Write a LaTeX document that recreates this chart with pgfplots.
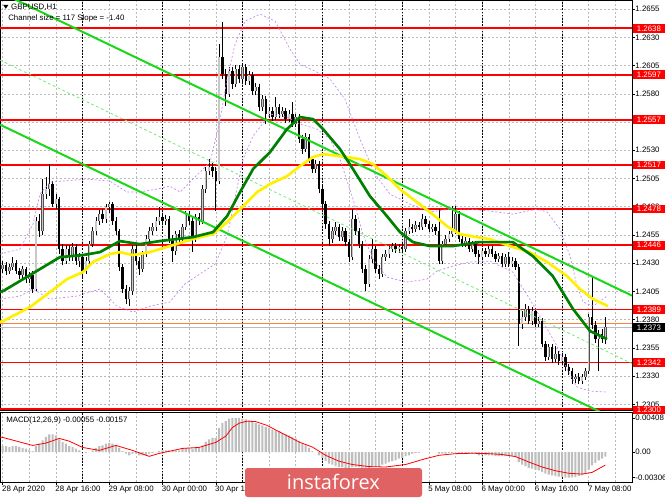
\documentclass[border=0pt]{standalone}
\usepackage{pgfplots}
\pgfplotsset{compat=1.18}
\usepackage{pgfplotstable}
\usepackage{fontspec}
\setmainfont{Liberation Sans}
\newfontfamily\wmfont{Open Sans}
\newcommand\lbl{\fontsize{5.9}{7}\selectfont}
\definecolor{chgreen}{RGB}{25,215,25}
\definecolor{midgreen}{RGB}{110,235,110}
\definecolor{magreen}{RGB}{0,128,0}
\definecolor{mayellow}{RGB}{255,240,0}
\definecolor{bbviolet}{RGB}{195,135,235}
\definecolor{gridgray}{RGB}{185,185,185}
\definecolor{bullfill}{RGB}{200,200,200}
\definecolor{bullline}{RGB}{80,80,80}
\definecolor{histgray}{RGB}{190,190,190}
\definecolor{wmred}{RGB}{224,98,98}
\definecolor{askorange}{RGB}{255,130,60}

\pgfplotstableread{
i o h l c
0 1.24248 1.24319 1.24212 1.24283
1 1.24283 1.24310 1.24195 1.24230
2 1.24230 1.24292 1.24204 1.24266
3 1.24266 1.24354 1.24239 1.24301
4 1.24301 1.24328 1.24204 1.24230
5 1.24230 1.24257 1.24159 1.24195
6 1.24195 1.24274 1.24168 1.24248
7 1.24248 1.24266 1.24124 1.24159
8 1.24159 1.24221 1.24124 1.24195
9 1.24195 1.24230 1.24035 1.24071
10 1.24071 1.24708 1.24053 1.24673
11 1.24673 1.24735 1.24531 1.24584
12 1.24584 1.25045 1.24549 1.24912
13 1.24912 1.25063 1.24868 1.24956
14 1.24956 1.25178 1.24894 1.25001
15 1.25001 1.25027 1.24797 1.24824
16 1.24824 1.24912 1.24779 1.24868
17 1.24868 1.24886 1.24381 1.24425
18 1.24425 1.24469 1.24283 1.24319
19 1.24319 1.24460 1.24292 1.24425
20 1.24425 1.24460 1.24319 1.24354
21 1.24354 1.24478 1.24319 1.24443
22 1.24443 1.24469 1.24283 1.24319
23 1.24319 1.24390 1.24266 1.24354
24 1.24354 1.24381 1.24159 1.24230
25 1.24230 1.24354 1.24204 1.24319
26 1.24319 1.24496 1.24292 1.24469
27 1.24469 1.24620 1.24443 1.24584
28 1.24584 1.24708 1.24549 1.24673
29 1.24673 1.24770 1.24638 1.24735
30 1.24735 1.24779 1.24655 1.24691
31 1.24691 1.24824 1.24655 1.24797
32 1.24797 1.24841 1.24744 1.24824
33 1.24824 1.24841 1.24638 1.24673
34 1.24673 1.24708 1.24549 1.24584
35 1.24584 1.24602 1.24230 1.24266
36 1.24266 1.24292 1.24035 1.24071
37 1.24071 1.24106 1.23938 1.23982
38 1.23982 1.24089 1.23920 1.24053
39 1.24053 1.24460 1.24018 1.24425
40 1.24425 1.24460 1.24283 1.24319
41 1.24319 1.24354 1.24195 1.24248
42 1.24248 1.24407 1.24221 1.24381
43 1.24381 1.24549 1.24354 1.24514
44 1.24514 1.24620 1.24478 1.24584
45 1.24584 1.24655 1.24549 1.24620
46 1.24620 1.24708 1.24584 1.24673
47 1.24673 1.24797 1.24638 1.24708
48 1.24708 1.24744 1.24638 1.24673
49 1.24673 1.24726 1.24638 1.24691
50 1.24691 1.24717 1.24478 1.24514
51 1.24514 1.24549 1.24310 1.24407
52 1.24407 1.24584 1.24372 1.24558
53 1.24558 1.24593 1.24478 1.24514
54 1.24514 1.24646 1.24487 1.24620
55 1.24620 1.24762 1.24593 1.24735
56 1.24735 1.24762 1.24638 1.24673
57 1.24673 1.24708 1.24398 1.24514
58 1.24514 1.24735 1.24487 1.24708
59 1.24708 1.24744 1.24638 1.24673
60 1.24673 1.24992 1.24646 1.24956
61 1.24956 1.25151 1.24921 1.25116
62 1.25116 1.25222 1.25080 1.25151
63 1.25151 1.25187 1.25063 1.25116
64 1.25116 1.25151 1.24762 1.25027
65 1.25027 1.26241 1.25001 1.26125
66 1.26125 1.26435 1.25931 1.25975
67 1.25975 1.26019 1.25691 1.25798
68 1.25798 1.26037 1.25771 1.26001
69 1.26001 1.26037 1.25842 1.25886
70 1.25886 1.26055 1.25860 1.26019
71 1.26019 1.26055 1.25895 1.25931
72 1.25931 1.26063 1.25904 1.26037
73 1.26037 1.26063 1.25877 1.25913
74 1.25913 1.26001 1.25877 1.25966
75 1.25966 1.25993 1.25789 1.25824
76 1.25824 1.25895 1.25789 1.25860
77 1.25860 1.25886 1.25647 1.25683
78 1.25683 1.25789 1.25647 1.25753
79 1.25753 1.25780 1.25532 1.25621
80 1.25621 1.25683 1.25585 1.25647
81 1.25647 1.25683 1.25559 1.25594
82 1.25594 1.25771 1.25567 1.25683
83 1.25683 1.25709 1.25585 1.25621
84 1.25621 1.25683 1.25594 1.25647
85 1.25647 1.25674 1.25541 1.25576
86 1.25576 1.25656 1.25550 1.25621
87 1.25621 1.25727 1.25506 1.25532
88 1.25532 1.25621 1.25506 1.25594
89 1.25594 1.25621 1.25364 1.25399
90 1.25399 1.25435 1.25266 1.25311
91 1.25311 1.25452 1.25284 1.25417
92 1.25417 1.25443 1.25187 1.25222
93 1.25222 1.25249 1.25098 1.25134
94 1.25134 1.25213 1.25098 1.25178
95 1.25178 1.25204 1.24921 1.24956
96 1.24956 1.24992 1.24779 1.24824
97 1.24824 1.24850 1.24602 1.24646
98 1.24646 1.24673 1.24452 1.24514
99 1.24514 1.24620 1.24478 1.24584
100 1.24584 1.24664 1.24549 1.24620
101 1.24620 1.24646 1.24496 1.24531
102 1.24531 1.24620 1.24496 1.24584
103 1.24584 1.24611 1.24452 1.24487
104 1.24487 1.24514 1.24310 1.24354
105 1.24354 1.24779 1.24328 1.24691
106 1.24691 1.24726 1.24549 1.24584
107 1.24584 1.24611 1.24434 1.24469
108 1.24469 1.24496 1.24212 1.24248
109 1.24248 1.24283 1.24053 1.24115
110 1.24115 1.24372 1.24089 1.24336
111 1.24336 1.24514 1.24301 1.24425
112 1.24425 1.24452 1.24212 1.24248
113 1.24248 1.24283 1.24159 1.24204
114 1.24204 1.24381 1.24177 1.24354
115 1.24354 1.24416 1.24319 1.24381
116 1.24381 1.24452 1.24345 1.24425
117 1.24425 1.24478 1.24398 1.24452
118 1.24452 1.24478 1.24390 1.24425
119 1.24425 1.24469 1.24390 1.24443
120 1.24443 1.24469 1.24398 1.24425
121 1.24425 1.24611 1.24398 1.24584
122 1.24584 1.24691 1.24558 1.24620
123 1.24620 1.24646 1.24567 1.24602
124 1.24602 1.24673 1.24576 1.24638
125 1.24638 1.24664 1.24593 1.24620
126 1.24620 1.24735 1.24593 1.24691
127 1.24691 1.24717 1.24620 1.24646
128 1.24646 1.24673 1.24576 1.24602
129 1.24602 1.24646 1.24576 1.24620
130 1.24620 1.24646 1.24549 1.24584
131 1.24584 1.24779 1.24292 1.24319
132 1.24319 1.24496 1.24292 1.24469
133 1.24469 1.24549 1.24443 1.24514
134 1.24514 1.24584 1.24487 1.24558
135 1.24558 1.24806 1.24531 1.24584
136 1.24584 1.24806 1.24558 1.24735
137 1.24735 1.24762 1.24487 1.24514
138 1.24514 1.24549 1.24443 1.24469
139 1.24469 1.24531 1.24443 1.24496
140 1.24496 1.24522 1.24398 1.24425
141 1.24425 1.24496 1.24398 1.24469
142 1.24469 1.24496 1.24354 1.24381
143 1.24381 1.24416 1.24292 1.24354
144 1.24354 1.24434 1.24328 1.24407
145 1.24407 1.24434 1.24354 1.24381
146 1.24381 1.24452 1.24354 1.24425
147 1.24425 1.24452 1.24354 1.24381
148 1.24381 1.24407 1.24310 1.24336
149 1.24336 1.24390 1.24310 1.24363
150 1.24363 1.24390 1.24266 1.24292
151 1.24292 1.24381 1.24266 1.24354
152 1.24354 1.24398 1.24266 1.24292
153 1.24292 1.24354 1.24266 1.24319
154 1.24319 1.24345 1.24239 1.24266
155 1.24266 1.24292 1.23566 1.23761
156 1.23761 1.23876 1.23717 1.23823
157 1.23823 1.23938 1.23787 1.23894
158 1.23894 1.23920 1.23761 1.23787
159 1.23787 1.23911 1.23752 1.23876
160 1.23876 1.23903 1.23734 1.23761
161 1.23761 1.23823 1.23734 1.23787
162 1.23787 1.23814 1.23557 1.23584
163 1.23584 1.23610 1.23433 1.23469
164 1.23469 1.23584 1.23442 1.23557
165 1.23557 1.23584 1.23415 1.23451
166 1.23451 1.23566 1.23424 1.23495
167 1.23495 1.23522 1.23398 1.23433
168 1.23433 1.23504 1.23398 1.23469
169 1.23469 1.23495 1.23345 1.23380
170 1.23380 1.23407 1.23309 1.23345
171 1.23345 1.23371 1.23229 1.23274
172 1.23274 1.23318 1.23238 1.23292
173 1.23292 1.23327 1.23229 1.23256
174 1.23256 1.23318 1.23229 1.23292
175 1.23292 1.23371 1.23265 1.23345
176 1.23345 1.23849 1.23318 1.23823
177 1.23823 1.24186 1.23717 1.23752
178 1.23752 1.23787 1.23593 1.23628
179 1.23628 1.23708 1.23345 1.23672
180 1.23672 1.23717 1.23593 1.23628
181 1.23628 1.23823 1.23584 1.23734
}\candles

\pgfplotstableread{
i m
0 0.0007
1 0.0007
2 0.0006
3 0.0007
4 0.0007
5 0.0006
6 0.0005
7 0.0004
8 0.0002
9 0.0001
10 0.0007
11 0.0010
12 0.0014
13 0.0018
14 0.0021
15 0.0021
16 0.0020
17 0.0015
18 0.0012
19 0.0010
20 0.0007
21 0.0006
22 0.0004
23 0.0002
24 0.0000
25 -0.0001
26 0.0000
27 0.0002
28 0.0005
29 0.0007
30 0.0008
31 0.0010
32 0.0011
33 0.0010
34 0.0008
35 0.0005
36 0.0001
37 -0.0002
38 -0.0004
39 -0.0002
40 -0.0002
41 -0.0004
42 -0.0004
43 -0.0004
44 -0.0002
45 -0.0001
46 0.0000
47 0.0001
48 0.0002
49 0.0002
50 0.0002
51 0.0001
52 0.0002
53 0.0002
54 0.0004
55 0.0005
56 0.0005
57 0.0004
58 0.0005
59 0.0005
60 0.0008
61 0.0012
62 0.0015
63 0.0017
64 0.0017
65 0.0029
66 0.0035
67 0.0037
68 0.0040
69 0.00408
70 0.00405
71 0.00408
72 0.0040
73 0.0039
74 0.0038
75 0.0036
76 0.0035
77 0.0033
78 0.0032
79 0.0030
80 0.0029
81 0.0027
82 0.0026
83 0.0025
84 0.0023
85 0.0021
86 0.0020
87 0.0018
88 0.0016
89 0.0013
90 0.0010
91 0.0008
92 0.0005
93 0.0001
94 0.0000
95 -0.0004
96 -0.0007
97 -0.0011
98 -0.0014
99 -0.0015
100 -0.0017
101 -0.0018
102 -0.0018
103 -0.0019
104 -0.0020
105 -0.0018
106 -0.0018
107 -0.0018
108 -0.0020
109 -0.0022
110 -0.0020
111 -0.0018
112 -0.0018
113 -0.0018
114 -0.0015
115 -0.0014
116 -0.0012
117 -0.0011
118 -0.0010
119 -0.0008
120 -0.0007
121 -0.0005
122 -0.0004
123 -0.0002
124 -0.0001
125 -0.0001
126 0.0000
127 0.0000
128 0.0000
129 0.0000
130 0.0000
131 -0.0002
132 -0.0002
133 -0.0002
134 -0.0001
135 -0.0001
136 0.0000
137 -0.0001
138 -0.0001
139 -0.0001
140 -0.0002
141 -0.0002
142 -0.0002
143 -0.0004
144 -0.0004
145 -0.0004
146 -0.0004
147 -0.0004
148 -0.0005
149 -0.0005
150 -0.0005
151 -0.0005
152 -0.0005
153 -0.0005
154 -0.0006
155 -0.0012
156 -0.0015
157 -0.0017
158 -0.0019
159 -0.0020
160 -0.0021
161 -0.0022
162 -0.0024
163 -0.0026
164 -0.0027
165 -0.0028
166 -0.0029
167 -0.00295
168 -0.0030
169 -0.00306
170 -0.00306
171 -0.00304
172 -0.0030
173 -0.0029
174 -0.0028
175 -0.0026
176 -0.0021
177 -0.0016
178 -0.0013
179 -0.0010
180 -0.0008
181 -0.00055
}\macd

\pgfplotsset{
  mtstyle/.style={
    scale only axis, width=474pt, xmin=-0.8, xmax=189,
    axis line style={black, line width=0.5pt},
    tick align=outside, major tick length=2pt, minor tick length=0pt,
    tick style={black, line width=0.4pt},
    ytick pos=right, yticklabel pos=right,
    scaled y ticks=false, scaled x ticks=false,
    xtick={0,16,...,176}, minor xtick={8,24,...,184},
    xmajorgrids, xminorgrids,
    major grid style={gridgray, line width=0.4pt, dash pattern=on 1.5pt off 1.5pt},
    minor grid style={gridgray, line width=0.4pt, dash pattern=on 1.5pt off 1.5pt},
    ticklabel style={font=\lbl, text=black},
    yticklabel style={anchor=west, inner sep=0pt, xshift=0.4pt},
  },
  candle/.style 2 args={draw=none, mark=none, forget plot,
    error bars/.cd, y dir=plus, y explicit, error mark=none,
    error bar style={line width=#1, draw=#2}},
}

\begin{document}
\begin{tikzpicture}
\path[use as bounding box] (0,0) rectangle (498.75pt,-374.25pt);

% ---------------- main price panel ----------------
\begin{axis}[mtstyle,
  at={(0pt,0pt)}, anchor=north west, height=307.5pt,
  ymin=1.2300, ymax=1.26631,
  xticklabels={}, xtick style={draw=none},
  ymajorgrids,
  ytick={1.2305,1.2330,1.2355,1.2380,1.2405,1.2430,1.2455,1.2480,1.2505,1.2530,1.2555,1.2580,1.2605,1.2630,1.2655},
  yticklabels={1.2305,1.2330,1.2355,1.2380,1.2405,1.2430,1.2455,1.2480,1.2505,1.2530,1.2555,1.2580,1.2605,1.2630,1.2655},
]
% day separators
\pgfplotsinvokeforeach{24,48,72,96,120,144,168}{
  \draw[black, line width=0.45pt, dash pattern=on 1.2pt off 1.2pt] (axis cs:#1,1.2300) -- (axis cs:#1,1.26631);
}
% support / resistance levels
\addplot[red, line width=1.3pt, forget plot] coordinates {(-0.8,1.2638) (189,1.2638)};
\addplot[red, line width=1.3pt, forget plot] coordinates {(-0.8,1.2597) (189,1.2597)};
\addplot[red, line width=1.3pt, forget plot] coordinates {(-0.8,1.2557) (189,1.2557)};
\addplot[red, line width=1.3pt, forget plot] coordinates {(-0.8,1.2517) (189,1.2517)};
\addplot[red, line width=1.3pt, forget plot] coordinates {(-0.8,1.2478) (189,1.2478)};
\addplot[red, line width=1.3pt, forget plot] coordinates {(-0.8,1.2446) (189,1.2446)};
\addplot[red, line width=1.3pt, forget plot] coordinates {(-0.8,1.2389) (189,1.2389)};
\addplot[red, line width=1.3pt, forget plot] coordinates {(-0.8,1.2342) (189,1.2342)};
\addplot[red, line width=1.6pt, forget plot] coordinates {(-0.8,1.23008) (189,1.23008)};
\addplot[askorange, line width=0.7pt, forget plot] coordinates {(-0.8,1.2377) (189,1.2377)};
\addplot[gridgray, line width=0.7pt, forget plot] coordinates {(-0.8,1.2373) (189,1.2373)};

% candles: wicks
\addplot[candle={0.5pt}{black}]
  table[x=i, y=l, y error plus expr=\thisrow{h}-\thisrow{l}] {\candles};
% bull bodies (outline, then fill)
\addplot[candle={1.8pt}{bullline}]
  table[x=i, y=o, y error plus expr={max(\thisrow{c}-\thisrow{o},0)}] {\candles};
\addplot[candle={1.0pt}{bullfill}]
  table[x=i, y=o, y error plus expr={max(\thisrow{c}-\thisrow{o},0)}] {\candles};
% bear bodies
\addplot[candle={1.8pt}{black}]
  table[x=i, y=c, y error plus expr={max(\thisrow{o}-\thisrow{c},0)}] {\candles};

% Bollinger-type envelopes
\addplot[bbviolet, line width=0.5pt, dash pattern=on 1.5pt off 1.5pt, forget plot] coordinates {
(-0.8,1.24381) (5.2,1.24425) (9.1,1.24646) (11.2,1.24912) (14.2,1.25018) (25.3,1.25045) (32.2,1.25027) (37.3,1.24930) (41.2,1.24930) (46.3,1.24956) (50.2,1.24983) (53.3,1.24930) (57.1,1.25045) (62.3,1.25195) (65.3,1.25576) (67.4,1.25931) (69.8,1.26241) (72.8,1.26444) (77.3,1.26506) (81.8,1.26444) (86.3,1.26196) (89.3,1.26063) (93.8,1.26001) (98.3,1.25931) (102.8,1.25753) (107.3,1.25399) (111.8,1.25089) (116.3,1.24912) (122.3,1.24824) (128.3,1.24753) (134.3,1.24779) (140.3,1.24779) (146.3,1.24762) (153.2,1.24735) (160.4,1.24779) (163.5,1.24753) (167.4,1.24602) (170.4,1.24363) (172.5,1.24097) (174.3,1.23956) (177.3,1.23920) (181.5,1.24009)};
\addplot[bbviolet, line width=0.5pt, dash pattern=on 1.5pt off 1.5pt, forget plot] coordinates {
(-0.8,1.23982) (5.2,1.24009) (9.1,1.24071) (14.2,1.23982) (22.3,1.24009) (29.2,1.24071) (34.3,1.23920) (39.1,1.23867) (44.2,1.23920) (50.2,1.23956) (54.7,1.24115) (59.2,1.24204) (63.8,1.24292) (67.4,1.24540) (72.2,1.25222) (75.2,1.25426) (80.3,1.25621) (85.4,1.25594) (89.3,1.25532) (94.4,1.25488) (98.3,1.25399) (101.3,1.25222) (105.2,1.24868) (108.2,1.24558) (111.2,1.24336) (115.4,1.24177) (121.4,1.24133) (127.4,1.24159) (130.4,1.24230) (135.2,1.24274) (140.3,1.24310) (146.3,1.24319) (153.2,1.24221) (158.3,1.23982) (162.3,1.23779) (166.5,1.23566) (169.5,1.23362) (172.5,1.23203) (176.4,1.23168) (181.5,1.23159)};

% regression channel
\addplot[midgreen, line width=0.6pt, dash pattern=on 2pt off 2pt, forget plot] coordinates {(-0.8,1.26099) (189,1.23412)};
\addplot[chgreen, line width=1.5pt, forget plot] coordinates {(-0.8,1.26700) (189,1.24013)};
\addplot[chgreen, line width=1.5pt, forget plot] coordinates {(-0.8,1.25527) (189,1.22849)};

% moving averages
\addplot[mayellow, line width=2pt, forget plot] coordinates {
(-0.8,1.23780) (0.1,1.23787) (8.2,1.23911) (14.2,1.24044) (19.3,1.24159) (24.1,1.24221) (27.1,1.24310) (32.2,1.24381) (35.2,1.24398) (39.1,1.24372) (44.2,1.24398) (50.2,1.24452) (57.1,1.24514) (63.2,1.24558) (67.4,1.24664) (71.3,1.24779) (76.4,1.24930) (80.3,1.25001) (85.4,1.25071) (89.3,1.25160) (93.2,1.25240) (96.2,1.25266) (101.3,1.25249) (107.3,1.25222) (111.2,1.25178) (115.4,1.25071) (119.3,1.24956) (124.4,1.24841) (128.3,1.24753) (133.4,1.24629) (137.3,1.24558) (142.4,1.24531) (146.3,1.24514) (153.2,1.24443) (158.3,1.24398) (163.5,1.24310) (169.5,1.24186) (173.4,1.24071) (177.3,1.23982) (181.8,1.23920)};
\addplot[magreen, line width=2pt, forget plot] coordinates {
(-0.8,1.24045) (0.1,1.24053) (5.2,1.24142) (11.2,1.24248) (17.2,1.24354) (24.1,1.24372) (29.2,1.24398) (35.2,1.24496) (41.2,1.24469) (47.2,1.24496) (57.1,1.24531) (63.2,1.24576) (67.4,1.24717) (71.3,1.24930) (75.2,1.25134) (80.3,1.25284) (85.4,1.25488) (89.3,1.25594) (93.2,1.25576) (96.2,1.25488) (101.3,1.25311) (105.2,1.25134) (110.3,1.24894) (115.4,1.24717) (119.3,1.24576) (123.2,1.24487) (128.3,1.24452) (135.2,1.24452) (143.3,1.24487) (153.2,1.24487) (159.2,1.24363) (165.2,1.24186) (171.3,1.23894) (176.4,1.23699) (181.5,1.23628)};

% anchors for price tags
\coordinate (L2638) at (axis cs:189,1.2638);
\coordinate (L2597) at (axis cs:189,1.2597);
\coordinate (L2557) at (axis cs:189,1.2557);
\coordinate (L2517) at (axis cs:189,1.2517);
\coordinate (L2478) at (axis cs:189,1.2478);
\coordinate (L2446) at (axis cs:189,1.2446);
\coordinate (L2389) at (axis cs:189,1.2389);
\coordinate (L2373) at (axis cs:189,1.2373);
\coordinate (L2342) at (axis cs:189,1.2342);
\coordinate (L2300) at (axis cs:189,1.2300);
\end{axis}

% ---------------- MACD panel ----------------
\begin{axis}[mtstyle,
  at={(0pt,-309pt)}, anchor=north west, height=52.5pt,
  ymin=-0.0036, ymax=0.0048,
  xtick pos=left,
  xticklabels={28 Apr 2020,28 Apr 16:00,29 Apr 08:00,30 Apr 00:00,30 Apr 16:00,1 May 08:00,4 May 00:00,4 May 16:00,5 May 08:00,6 May 00:00,6 May 16:00,7 May 08:00},
  xticklabel style={anchor=north west, inner sep=0pt, xshift=-0.6pt, yshift=-0.6pt},
  ytick={-0.00306,0,0.00408},
  yticklabels={-0.00306,0.00,0.00408},
]
\pgfplotsinvokeforeach{24,48,72,96,120,144,168}{
  \draw[black, line width=0.45pt, dash pattern=on 1.2pt off 1.2pt] (axis cs:#1,-0.0036) -- (axis cs:#1,0.0048);
}
\addplot[ybar, bar width=1.6pt, fill=histgray, draw=none, forget plot] table[x=i, y=m] {\macd};
\addplot[red, line width=0.6pt, forget plot] coordinates {
(-0.8,0.00178) (0,0.00175) (9,0.00079) (13,0.00107) (17,0.00163) (20,0.00130) (24,0.00055) (29,0.00019) (34,0.00079) (39,0.00019) (44,-0.00052) (47,-0.00017) (54,0.00043) (59,0.00055) (64,0.00115) (67,0.00190) (69,0.00294) (71,0.00345) (73.4,0.00370) (76,0.00365) (79.4,0.00319) (84,0.00223) (89.3,0.00115) (93,0.00060) (97,-0.00040) (101,-0.00110) (105,-0.00150) (110,-0.00175) (115,-0.00180) (121,-0.00150) (127,-0.00080) (131,-0.00040) (136,-0.00020) (141,-0.00015) (146,-0.00020) (150,-0.00030) (154,-0.00055) (158,-0.00120) (162,-0.00180) (166,-0.00225) (170,-0.00255) (174,-0.00265) (177,-0.00245) (181,-0.00157)};
\end{axis}

% ---------------- price tags ----------------
\tikzset{tag/.style={fill=red, text=white, font=\lbl, inner sep=0pt, minimum width=24pt, minimum height=6.6pt, anchor=west}}
\node[tag] at ([xshift=0.5pt]L2638) {1.2638};
\node[tag] at ([xshift=0.5pt]L2597) {1.2597};
\node[tag] at ([xshift=0.5pt]L2557) {1.2557};
\node[tag] at ([xshift=0.5pt]L2517) {1.2517};
\node[tag] at ([xshift=0.5pt]L2478) {1.2478};
\node[tag] at ([xshift=0.5pt]L2446) {1.2446};
\node[tag] at ([xshift=0.5pt]L2389) {1.2389};
\node[tag, fill=black] at ([xshift=0.5pt]L2373) {1.2373};
\node[tag] at ([xshift=0.5pt]L2342) {1.2342};
\node[tag] at ([xshift=0.5pt]L2300) {1.2300};

% ---------------- texts ----------------
\fill (2.4pt,-3.6pt) -- (6.3pt,-3.6pt) -- (4.35pt,-6.6pt) -- cycle;
\node[anchor=west, inner sep=0pt, font=\lbl] at (8.2pt,-5.2pt) {GBPUSD,H1};
\node[anchor=west, inner sep=0pt, font=\lbl] at (6pt,-13.5pt) {Channel size = 117 Slope = -1.40};
\node[anchor=west, inner sep=0pt, font=\lbl] at (4.5pt,-315pt) {MACD(12,26,9) -0.00055 -0.00157};

% ---------------- watermark ----------------
\fill[wmred, rounded corners=2pt] (183.75pt,-351pt) rectangle (316.5pt,-372.75pt);
\node[text=white, font=\wmfont\fontsize{15}{16}\selectfont, inner sep=0pt] at (250.1pt,-361.2pt) {instaforex};
\end{tikzpicture}
\end{document}
